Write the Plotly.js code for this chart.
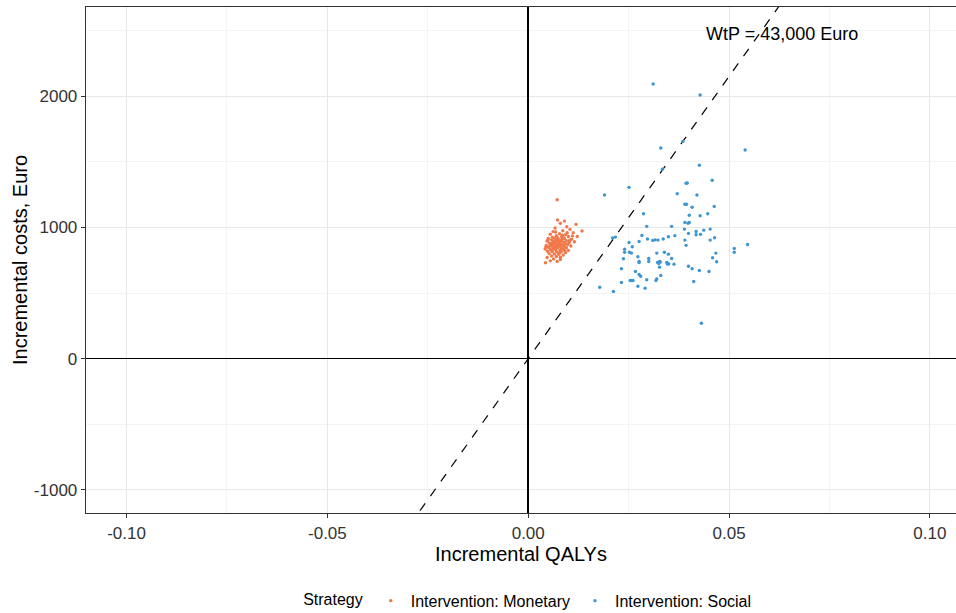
<!DOCTYPE html>
<html>
<head>
<meta charset="utf-8">
<script src="https://cdn.plot.ly/plotly-3.0.1.min.js"></script>
<style>html,body{margin:0;padding:0;background:#fff;}#chart{width:956px;height:613px;}</style>
</head>
<body>
<div id="chart"></div>
<script>
// ---- Data ----
const WTP = 43000;
const wtpLabel = "WtP = 43,000 Euro";
const strategyNames = ["Intervention: Monetary", "Intervention: Social"];

const monetaryQALY = [0.0072,0.0090,0.0073,0.0119,0.0134,0.0080,0.0096,0.0067,0.0104,0.0062,
  0.0086,0.0112,0.0055,0.0078,0.0093,0.0070,0.0100,0.0060,0.0083,0.0122,
  0.0050,0.0065,0.0075,0.0090,0.0108,0.0058,0.0070,0.0082,0.0095,0.0047,
  0.0063,0.0077,0.0088,0.0102,0.0115,0.0053,0.0068,0.0080,0.0092,0.0060,
  0.0072,0.0085,0.0098,0.0045,0.0057,0.0066,0.0078,0.0090,0.0106,0.0050,
  0.0062,0.0073,0.0083,0.0095,0.0042,0.0055,0.0068,0.0079,0.0088,0.0100,
  0.0048,0.0060,0.0071,0.0082,0.0093,0.0052,0.0065,0.0076,0.0087,0.0058,
  0.0070,0.0080,0.0047,0.0063,0.0080,0.0043,0.0055,0.0072,0.0066,0.0074,
  0.0061,0.0084,0.0057,0.0069,0.0081,0.0064,0.0076,0.0089,0.0054,0.0072,
  0.0097,0.0085,0.0049,0.0059,0.0078,0.0091,0.0044,0.0103,0.0068,0.0110];
const monetaryCost = [1211,1048,1056,1023,972,1032,1005,995,985,968,
  975,960,948,952,945,936,930,925,928,930,
  915,918,912,915,910,905,902,900,898,895,
  893,890,888,885,890,880,882,878,876,870,
  868,866,870,862,860,858,856,855,858,848,
  846,844,842,845,835,832,830,828,832,825,
  818,815,812,814,808,800,798,795,790,782,
  778,772,770,760,756,730,745,740,880,895,
  885,908,872,850,862,838,870,920,858,925,
  960,940,905,820,808,822,850,900,965,935];

const socialQALY = [0.0311,0.0428,0.0330,0.0540,0.0426,0.0334,0.0385,0.0458,0.0393,0.0396,
  0.0251,0.0190,0.0371,0.0420,0.0390,0.0394,0.0408,0.0463,0.0287,0.0401,
  0.0428,0.0447,0.0390,0.0401,0.0398,0.0295,0.0357,0.0389,0.0453,0.0437,
  0.0418,0.0399,0.0418,0.0429,0.0283,0.0365,0.0349,0.0217,0.0210,0.0297,
  0.0310,0.0316,0.0323,0.0336,0.0390,0.0464,0.0453,0.0251,0.0276,0.0393,
  0.0259,0.0240,0.0240,0.0252,0.0257,0.0320,0.0339,0.0349,0.0467,0.0513,
  0.0513,0.0546,0.0273,0.0300,0.0300,0.0357,0.0459,0.0237,0.0327,0.0322,
  0.0325,0.0329,0.0345,0.0347,0.0350,0.0363,0.0276,0.0276,0.0469,0.0399,
  0.0408,0.0426,0.0450,0.0232,0.0327,0.0267,0.0276,0.0280,0.0254,0.0258,
  0.0261,0.0295,0.0320,0.0318,0.0330,0.0412,0.0232,0.0273,0.0291,0.0178,
  0.0212,0.0431];
const socialCost = [2092,2008,1605,1590,1473,1443,1655,1359,1336,1338,
  1305,1247,1257,1247,1176,1176,1153,1160,1104,1092,
  1089,1104,1038,1038,1031,1008,1008,987,987,979,
  969,954,944,947,939,937,929,926,920,911,
  901,905,903,911,903,921,903,885,893,863,
  853,834,811,811,804,804,811,796,804,840,
  811,870,776,763,740,763,769,761,740,733,
  725,736,733,720,722,720,740,733,738,704,
  685,672,664,685,697,664,641,628,595,595,
  595,601,608,595,634,588,580,552,537,544,
  511,270];

// ---- Layout constants ----
const xRange = [-0.1101, 0.1065];
const yRange = [-1176, 2679];
const FONT = "Liberation Sans, Arial, sans-serif";

const wtpX = [xRange[0], xRange[1]];
const wtpY = wtpX.map(v => v * WTP);

const traces = [
  {x: wtpX, y: wtpY, mode: "lines", line: {color: "#000", width: 1.2, dash: "dash"},
   showlegend: false, hoverinfo: "skip"},
  {x: monetaryQALY, y: monetaryCost, mode: "markers", name: strategyNames[0],
   marker: {color: "#F0784A", size: 3.4}},
  {x: socialQALY, y: socialCost, mode: "markers", name: strategyNames[1],
   marker: {color: "#3C96D2", size: 3.4}}
];

const layout = {
  width: 956, height: 613,
  margin: {l: 86, r: 0, t: 7, b: 100},
  paper_bgcolor: "#fff", plot_bgcolor: "#fff",
  font: {family: FONT, color: "#000"},
  xaxis: {
    range: xRange, tickvals: [-0.1, -0.05, 0, 0.05, 0.1],
    ticktext: ["-0.10", "-0.05", "0.00", "0.05", "0.10"],
    tickfont: {size: 17, color: "#333"}, ticks: "outside", ticklen: 4, tickcolor: "#333",
    showgrid: true, gridcolor: "#e8e8e8", gridwidth: 1.1,
    minor: {tickvals: [-0.075, -0.025, 0.025, 0.075], showgrid: true, gridcolor: "#efefef", gridwidth: 0.7, ticks: ""},
    zeroline: true, zerolinecolor: "#000", zerolinewidth: 1.6,
    showline: true, linecolor: "#333", linewidth: 1.3, mirror: true,
    title: {text: "Incremental QALYs", font: {size: 20, color: "#000"}, standoff: 5}
  },
  yaxis: {
    range: yRange, tickvals: [-1000, 0, 1000, 2000],
    ticktext: ["-1000", "0", "1000", "2000"],
    tickfont: {size: 17, color: "#333"}, ticks: "outside", ticklen: 4, tickcolor: "#333",
    showgrid: true, gridcolor: "#e8e8e8", gridwidth: 1.1,
    minor: {tickvals: [-500, 500, 1500, 2500], showgrid: true, gridcolor: "#efefef", gridwidth: 0.7, ticks: ""},
    zeroline: true, zerolinecolor: "#000", zerolinewidth: 1.6,
    showline: true, linecolor: "#333", linewidth: 1.3, mirror: false,
    title: {text: "Incremental costs, Euro", font: {size: 20, color: "#000"}, standoff: 0}
  },
  legend: {
    orientation: "h", xref: "container", yref: "container",
    x: 0.553, xanchor: "center", y: 0.02, yanchor: "middle",
    font: {size: 16, color: "#000"},
    title: {text: "Strategy", side: "left", font: {size: 16, color: "#000"}}
  },
  annotations: [{
    x: 0.0633, y: 2473, xref: "x", yref: "y", text: wtpLabel, showarrow: false,
    font: {size: 18, color: "#000"}, xanchor: "center", yanchor: "middle"
  }]
};

Plotly.newPlot("chart", traces, layout, {staticPlot: true, displayModeBar: false});
</script>
</body>
</html>
